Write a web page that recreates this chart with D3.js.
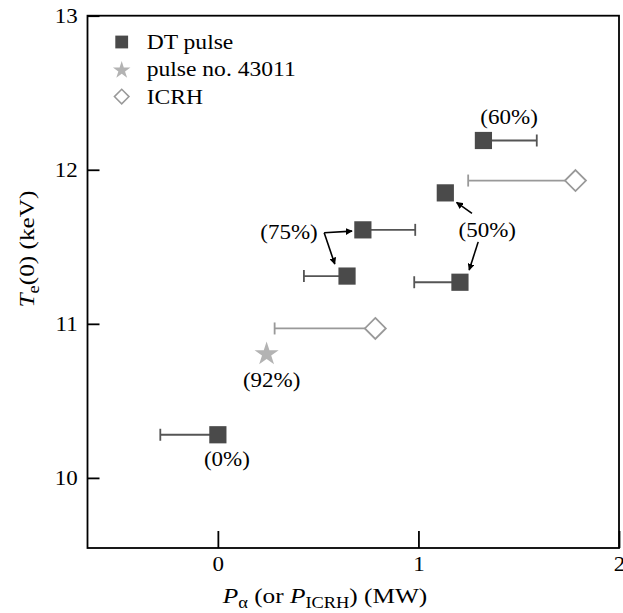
<!DOCTYPE html>
<html>
<head>
<meta charset="utf-8">
<script src="https://cdn.jsdelivr.net/npm/d3@7"></script>
<style>
  body { margin: 0; background: #fff; }
  svg text { font-family: 'Liberation Serif', 'Times New Roman', serif; fill: #000; }
</style>
</head>
<body>
<div id="chart"></div>
<script>
// DT pulses (filled squares)
var dtX = [1.324, 1.134, 0.723, 0.644, 1.207, 0.0];
var dtY = [12.19, 11.85, 11.61, 11.31, 11.27, 10.28];
var dtErrLo = [null, null, null, 0.429, 0.979, -0.287];
var dtErrHi = [1.59, null, 0.984, null, null, null];

// pulse no. 43011 (star)
var starX = [0.243];
var starY = [10.81];

// ICRH (open diamonds)
var icrhX = [1.783, 0.785];
var icrhY = [11.93, 10.97];
var icrhErrLo = [1.248, 0.283];

// percentage labels
var noteText = ["(60%)", "(75%)", "(50%)", "(92%)", "(0%)"];
var noteX = [1.452, 0.498, 1.343, 0.268, 0.045];
var noteY = [12.342, 11.595, 11.608, 10.634, 10.121];
var noteAnchor = ["middle", "end", "middle", "middle", "middle"];

// arrows from labels to points
var arrowX1 = [0.530, 0.530, 1.267, 1.298];
var arrowY1 = [11.591, 11.591, 11.717, 11.532];
var arrowX2 = [0.669, 0.583, 1.190, 1.253];
var arrowY2 = [11.602, 11.388, 11.788, 11.349];

var xTicks = [0, 1, 2];
var yTicks = [10, 11, 12, 13];
var legendLabels = ["DT pulse", "pulse no. 43011", "ICRH"];

var serif = "'Liberation Serif', 'Times New Roman', serif";

var margin = {top: 15.7, right: 4, bottom: 65, left: 87.5},
    width = 623 - margin.left - margin.right,
    height = 613 - margin.top - margin.bottom;

var svg = d3.select("#chart")
  .append("svg")
    .attr("width", 623)
    .attr("height", 613)
    .attr("font-family", serif);

var g = svg.append("g")
    .attr("transform", "translate(" + margin.left + "," + margin.top + ")");

var x = d3.scaleLinear().domain([-0.65, 2]).range([0, width]);
var y = d3.scaleLinear().domain([9.545, 13]).range([height, 0]);

var sx = 1.15; // the original type looks stretched sideways

// frame
g.append("rect")
  .attr("x", 0).attr("y", 0)
  .attr("width", width).attr("height", height)
  .attr("fill", "none")
  .attr("stroke", "#000")
  .attr("stroke-width", 1.8);

var yAxis = g.append("g")
  .call(d3.axisLeft(y).tickValues(yTicks).tickFormat(d3.format("d"))
    .tickSizeInner(-12).tickSizeOuter(0).tickPadding(8.5));
var xAxis = g.append("g")
  .attr("transform", "translate(0," + height + ")")
  .call(d3.axisBottom(x).tickValues(xTicks).tickFormat(d3.format("d"))
    .tickSizeInner(-17).tickSizeOuter(0).tickPadding(9));

[yAxis, xAxis].forEach(function (a) {
  a.attr("font-family", serif);
  a.select(".domain").remove();
  a.selectAll(".tick line").attr("stroke", "#000").attr("stroke-width", 1.8);
  a.selectAll(".tick text")
    .attr("transform", "scale(" + sx + ",1)")
    .style("font-size", "20px")
    .style("font-family", serif)
    .attr("fill", "#000");
});

function addText(sel, px, py, str, size, anchor) {
  return sel.append("text")
    .attr("transform", "translate(" + px + "," + py + ") scale(" + sx + ",1)")
    .attr("text-anchor", anchor)
    .attr("dy", "0.35em")
    .style("font-family", serif)
    .style("font-size", size + "px")
    .text(str);
}

function diamond(r) {
  return "M0," + (-r) + "L" + r + ",0L0," + r + "L" + (-r) + ",0Z";
}

// error bars
function errBar(xv, yv, end, color, w) {
  g.append("line")
    .attr("x1", x(xv)).attr("x2", x(end))
    .attr("y1", y(yv)).attr("y2", y(yv))
    .attr("stroke", color).attr("stroke-width", w);
  g.append("line")
    .attr("x1", x(end)).attr("x2", x(end))
    .attr("y1", y(yv) - 6).attr("y2", y(yv) + 6)
    .attr("stroke", color).attr("stroke-width", w);
}

dtX.forEach(function (d, i) {
  if (dtErrLo[i] != null) errBar(d, dtY[i], dtErrLo[i], "#555", 1.8);
  if (dtErrHi[i] != null) errBar(d, dtY[i], dtErrHi[i], "#555", 1.8);
});
icrhX.forEach(function (d, i) {
  errBar(d, icrhY[i], icrhErrLo[i], "#999", 1.8);
});

// markers
g.selectAll(".dt").data(dtX).enter().append("rect")
  .attr("x", function (d) { return x(d) - 8.6; })
  .attr("y", function (d, i) { return y(dtY[i]) - 8.6; })
  .attr("width", 17.2).attr("height", 17.2)
  .attr("fill", "#4a4a4a");

g.selectAll(".icrh").data(icrhX).enter().append("path")
  .attr("d", diamond(10.5))
  .attr("transform", function (d, i) { return "translate(" + x(d) + "," + y(icrhY[i]) + ")"; })
  .attr("fill", "#fff").attr("stroke", "#999").attr("stroke-width", 1.8);

g.selectAll(".star").data(starX).enter().append("path")
  .attr("d", d3.symbol().type(d3.symbolStar).size(180))
  .attr("transform", function (d, i) { return "translate(" + x(d) + "," + (y(starY[i]) + 1) + ")"; })
  .attr("fill", "#b3b3b3");

// arrows
svg.append("defs").append("marker")
  .attr("id", "head")
  .attr("viewBox", "0 0 10 10")
  .attr("refX", 9).attr("refY", 5)
  .attr("markerWidth", 7).attr("markerHeight", 7)
  .attr("markerUnits", "userSpaceOnUse")
  .attr("orient", "auto")
  .append("path").attr("d", "M0,0L10,5L0,10Z").attr("fill", "#000");

arrowX1.forEach(function (d, i) {
  g.append("line")
    .attr("x1", x(d)).attr("y1", y(arrowY1[i]))
    .attr("x2", x(arrowX2[i])).attr("y2", y(arrowY2[i]))
    .attr("stroke", "#000").attr("stroke-width", 1.6)
    .attr("marker-end", "url(#head)");
});

noteText.forEach(function (t, i) {
  addText(g, x(noteX[i]), y(noteY[i]), t, 20, noteAnchor[i]);
});

// legend
var leg = svg.append("g").attr("transform", "translate(121.7,42)");
legendLabels.forEach(function (t, i) {
  var row = leg.append("g").attr("transform", "translate(0," + (i * 27.3) + ")");
  if (i == 0) {
    row.append("rect").attr("x", -6.4).attr("y", -6.4).attr("width", 12.8).attr("height", 12.8).attr("fill", "#4a4a4a");
  } else if (i == 1) {
    row.append("path").attr("d", d3.symbol().type(d3.symbolStar).size(95)).attr("transform", "translate(0,1)").attr("fill", "#b3b3b3");
  } else {
    row.append("path").attr("d", diamond(7.3)).attr("fill", "#fff").attr("stroke", "#999").attr("stroke-width", 1.5);
  }
  addText(row, 25, 0, t, 20.5, "start");
});

// axis titles
var xt = svg.append("text")
  .attr("transform", "translate(325,603) scale(" + sx + ",1)")
  .attr("text-anchor", "middle")
  .style("font-family", serif)
  .style("font-size", "22px");
xt.append("tspan").style("font-style", "italic").text("P");
xt.append("tspan").attr("dy", 5).style("font-size", "16px").text("α");
xt.append("tspan").attr("dy", -5).text(" (or ");
xt.append("tspan").style("font-style", "italic").text("P");
xt.append("tspan").attr("dy", 5).style("font-size", "16px").text("ICRH");
xt.append("tspan").attr("dy", -5).text(") (MW)");

var yt = svg.append("text")
  .attr("transform", "translate(34,249) rotate(-90) scale(" + sx + ",1)")
  .attr("text-anchor", "middle")
  .style("font-family", serif)
  .style("font-size", "22px");
yt.append("tspan").style("font-style", "italic").text("T");
yt.append("tspan").attr("dy", 5).style("font-size", "16px").text("e");
yt.append("tspan").attr("dy", -5).text("(0) (keV)");
</script>
</body>
</html>
